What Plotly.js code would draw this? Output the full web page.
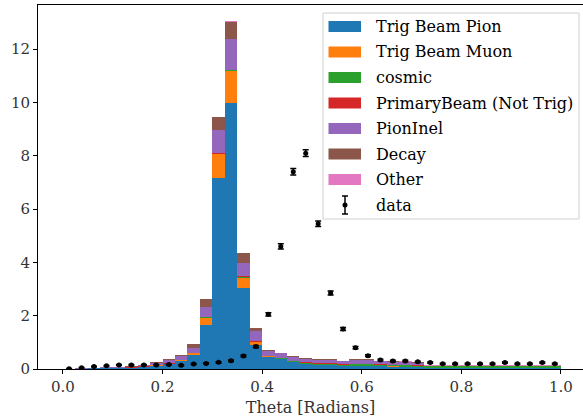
<!DOCTYPE html>
<html>
<head>
<meta charset="utf-8">
<script src="https://cdn.plot.ly/plotly-3.0.1.min.js"></script>
<style>html,body{margin:0;padding:0;background:#fff;}#chart{width:583px;height:420px;}</style>
</head>
<body>
<div id="chart"></div>
<script>
// Bin centres (bin width 0.025, 0..1)
const binCenters = [0.0125,0.0375,0.0625,0.0875,0.1125,0.1375,0.1625,0.1875,0.2125,0.2375,
  0.2625,0.2875,0.3125,0.3375,0.3625,0.3875,0.4125,0.4375,0.4625,0.4875,
  0.5125,0.5375,0.5625,0.5875,0.6125,0.6375,0.6625,0.6875,0.7125,0.7375,
  0.7625,0.7875,0.8125,0.8375,0.8625,0.8875,0.9125,0.9375,0.9625,0.9875];

const trigBeamPion = [0.005,0.01,0.02,0.03,0.035,0.045,0.08,0.12,0.18,0.30,
  0.52,1.65,7.15,10.0,3.05,0.9,0.45,0.36,0.26,0.19,
  0.15,0.15,0.11,0.12,0.12,0.10,0.09,0.08,0.07,0.02,
  0.02,0.02,0.02,0.02,0.02,0.02,0.02,0.02,0.02,0.02];
const trigBeamMuon = [0,0,0.002,0.005,0.005,0.005,0.01,0.02,0.02,0.03,
  0.07,0.28,0.92,1.2,0.38,0.12,0.02,0.02,0.01,0.01,
  0.005,0.005,0.005,0.005,0.005,0.005,0.005,0.005,0.005,0,
  0,0,0,0,0,0,0,0,0,0];
const cosmic = [0.002,0.002,0.002,0.002,0.002,0.002,0.002,0.002,0.002,0.002,
  0.005,0.005,0.005,0.005,0.005,0.005,0.02,0.03,0.03,0.04,
  0.05,0.05,0.05,0.05,0.05,0.05,0.05,0.05,0.05,0.085,
  0.085,0.085,0.085,0.085,0.085,0.085,0.085,0.085,0.085,0.085];
const primaryBeam = [0,0,0.01,0.01,0.01,0.01,0.005,0.005,0.005,0.01,
  0.01,0.01,0.02,0.03,0.06,0.04,0.015,0.015,0.015,0.015,
  0.015,0.015,0.015,0.03,0.015,0.015,0.015,0.015,0.015,0.002,
  0.002,0.002,0.002,0.002,0.002,0.002,0.002,0.002,0.002,0.002];
const pionInel = [0.003,0.008,0.01,0.015,0.02,0.025,0.04,0.08,0.12,0.13,
  0.19,0.37,0.88,1.15,0.5,0.36,0.17,0.16,0.13,0.12,
  0.12,0.13,0.11,0.14,0.15,0.12,0.11,0.11,0.10,0.02,
  0.02,0.02,0.02,0.02,0.02,0.02,0.02,0.02,0.02,0.02];
const decay = [0.002,0.003,0.005,0.005,0.005,0.008,0.015,0.03,0.035,0.05,
  0.15,0.30,0.47,0.65,0.35,0.12,0.04,0.03,0.025,0.02,
  0.02,0.02,0.02,0.02,0.02,0.02,0.02,0.02,0.02,0.003,
  0.003,0.003,0.003,0.003,0.003,0.003,0.003,0.003,0.003,0.003];
const other = [0.002,0.002,0.002,0.002,0.002,0.002,0.002,0.002,0.002,0.002,
  0.002,0.005,0.01,0.01,0.005,0.002,0.002,0.002,0.002,0.002,
  0.002,0.002,0.002,0.002,0.002,0.002,0.002,0.002,0.002,0.002,
  0.002,0.002,0.002,0.002,0.002,0.002,0.002,0.002,0.002,0.002];

const dataValues = [0.01,0.05,0.09,0.12,0.15,0.15,0.15,0.15,0.17,0.14,
  0.19,0.21,0.25,0.31,0.49,0.84,2.05,4.6,7.4,8.1,
  5.45,2.85,1.5,0.8,0.5,0.34,0.3,0.3,0.27,0.24,
  0.2,0.2,0.2,0.2,0.2,0.24,0.2,0.2,0.24,0.2];
const dataErrors = [0.005,0.01,0.014,0.016,0.018,0.018,0.018,0.018,0.019,0.017,
  0.02,0.021,0.023,0.025,0.032,0.042,0.065,0.097,0.12,0.13,
  0.105,0.076,0.055,0.04,0.032,0.026,0.025,0.025,0.024,0.022,
  0.02,0.02,0.02,0.02,0.02,0.022,0.02,0.02,0.022,0.02];

const seriesNames = ["Trig Beam Pion","Trig Beam Muon","cosmic","PrimaryBeam (Not Trig)","PionInel","Decay","Other"];
const seriesValues = [trigBeamPion,trigBeamMuon,cosmic,primaryBeam,pionInel,decay,other];
const seriesColors = ["#1f77b4","#ff7f0e","#2ca02c","#d62728","#9467bd","#8c564b","#e377c2"];
const dataName = "data";

const FONT = "DejaVu Serif, serif";

const traces = seriesValues.map((v,i)=>({
  type:'bar', x:binCenters, y:v, name:seriesNames[i],
  marker:{color:seriesColors[i], line:{width:0}}, showlegend:false, hoverinfo:'skip'
}));
traces.push({
  type:'scatter', mode:'markers', x:binCenters, y:dataValues, name:dataName,
  marker:{color:'black', size:5},
  error_y:{type:'data', array:dataErrors, visible:true, color:'black', thickness:1.5, width:3},
  showlegend:false
});

// plot area in pixels
const L=38, R=583, T=5, B=369;
const px = X => (X-L)/(R-L);
const py = Y => (B-Y)/(B-T);

const shapes = [];
const annotations = [];
// legend box
shapes.push({type:'rect', xref:'paper', yref:'paper', x0:px(323), x1:px(579), y0:py(13), y1:py(219),
  fillcolor:'rgba(255,255,255,0.85)', line:{color:'#d0d0d0', width:1}, layer:'above'});
const rowY0 = 26.5, rowGap = 25.5;
seriesNames.forEach((n,i)=>{
  const cy = rowY0 + i*rowGap;
  shapes.push({type:'rect', xref:'paper', yref:'paper', x0:px(328.5), x1:px(361), y0:py(cy+5.5), y1:py(cy-5.5),
    fillcolor:seriesColors[i], line:{width:0}, layer:'above'});
  annotations.push({xref:'paper', yref:'paper', x:px(374), y:py(cy), xanchor:'left', yanchor:'middle',
    text:n, showarrow:false, font:{family:FONT, size:16, color:'#000'}});
});
{
  const cy = rowY0 + 7*rowGap;
  const cx = 345;
  shapes.push({type:'line', xref:'paper', yref:'paper', x0:px(cx), x1:px(cx), y0:py(cy-9), y1:py(cy+9), line:{color:'black', width:1.5}, layer:'above'});
  shapes.push({type:'line', xref:'paper', yref:'paper', x0:px(cx-3), x1:px(cx+3), y0:py(cy-9), y1:py(cy-9), line:{color:'black', width:1.5}, layer:'above'});
  shapes.push({type:'line', xref:'paper', yref:'paper', x0:px(cx-3), x1:px(cx+3), y0:py(cy+9), y1:py(cy+9), line:{color:'black', width:1.5}, layer:'above'});
  shapes.push({type:'circle', xref:'paper', yref:'paper', x0:px(cx-2.5), x1:px(cx+2.5), y0:py(cy+2.5), y1:py(cy-2.5), fillcolor:'black', line:{width:0}, layer:'above'});
  annotations.push({xref:'paper', yref:'paper', x:px(374), y:py(cy), xanchor:'left', yanchor:'middle',
    text:dataName, showarrow:false, font:{family:FONT, size:16, color:'#000'}});
}

const layout = {
  width:583, height:420,
  margin:{l:L, r:583-R, t:T, b:420-B, pad:0},
  paper_bgcolor:'#fff', plot_bgcolor:'#fff',
  barmode:'stack', bargap:0,
  showlegend:false,
  font:{family:FONT, size:15, color:'#000'},
  xaxis:{range:[-0.05,1.0442], tick0:0, dtick:0.2, tickformat:'.1f',
    showline:true, mirror:true, linecolor:'#000', linewidth:1,
    ticks:'outside', ticklen:4, tickcolor:'#000', tickwidth:1,
    showgrid:false, zeroline:false,
    tickfont:{family:FONT, size:15, color:'#333'},
    title:{text:'Theta [Radians]', font:{family:FONT, size:16, color:'#333'}, standoff:6}},
  yaxis:{range:[0,13.66], tick0:0, dtick:2,
    showline:true, mirror:true, linecolor:'#000', linewidth:1,
    ticks:'outside', ticklen:4, tickcolor:'#000', tickwidth:1,
    showgrid:false, zeroline:false,
    tickfont:{family:FONT, size:15, color:'#333'}},
  shapes:shapes,
  annotations:annotations
};

Plotly.newPlot('chart', traces, layout, {displayModeBar:false, staticPlot:true});
</script>
</body>
</html>
